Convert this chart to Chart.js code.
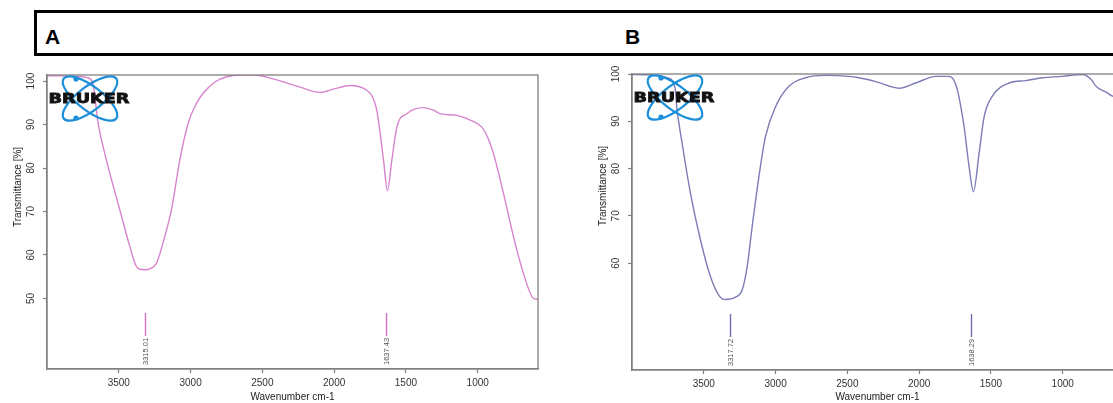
<!DOCTYPE html>
<html>
<head>
<meta charset="utf-8">
<script src="https://cdn.jsdelivr.net/npm/chart.js@4.4.1/dist/chart.umd.min.js"></script>
<style>
  html, body { margin: 0; padding: 0; background: #fff; overflow: hidden; }
  body { width: 1113px; height: 403px; position: relative; font-family: 'Liberation Sans', Arial, sans-serif; }
  .header { position: absolute; left: 34px; top: 10px; width: 1200px; height: 40px; border: 3px solid #000; }
  .panel-label { position: absolute; top: 26px; font-weight: bold; font-size: 21px; line-height: 1; color: #000; }
  canvas { position: absolute; top: 60px; }
</style>
</head>
<body>
<div class="header"></div>
<div class="panel-label" style="left:45px">A</div>
<div class="panel-label" style="left:625px">B</div>
<canvas id="chartA" width="560" height="343" style="left:0px"></canvas>
<canvas id="chartB" width="560" height="343" style="left:585px"></canvas>
<script>
// spectrum A (pink)
const wavenumbersA = [4000, 3900, 3800, 3720, 3681, 3644, 3586, 3540, 3493, 3423, 3380, 3354, 3315, 3284, 3237, 3190, 3133, 3075, 3017, 2960, 2912, 2830, 2749, 2650, 2550, 2426, 2237, 2098, 2000, 1889, 1773, 1730, 1703, 1656, 1629, 1598, 1563, 1494, 1378, 1308, 1261, 1145, 1052, 971, 930, 890, 820, 750, 681, 611, 580];
const transmittanceA = [101.2, 101.2, 101.1, 100.8, 99.5, 90.3, 81.8, 76.0, 70.4, 61.9, 57.5, 56.7, 56.6, 56.8, 58.1, 63.0, 70.4, 81.8, 90.3, 94.8, 97.2, 99.8, 101.0, 101.4, 101.4, 100.5, 98.6, 97.4, 98.2, 99.0, 97.9, 96.2, 93.3, 81.8, 74.8, 81.8, 89.4, 92.5, 93.9, 93.3, 92.5, 92.1, 91.0, 89.4, 87.0, 83.3, 74.1, 64.1, 55.7, 50.0, 49.8];

// spectrum B (blue)
const wavenumbersB = [4000, 3850, 3750, 3700, 3686, 3651, 3593, 3523, 3453, 3395, 3349, 3279, 3233, 3198, 3163, 3116, 3070, 3000, 2907, 2791, 2651, 2489, 2419, 2303, 2140, 2024, 1884, 1792, 1760, 1734, 1687, 1652, 1622, 1582, 1547, 1490, 1373, 1257, 1141, 1002, 863, 800, 768, 700, 653, 580];
const transmittanceB = [99.9, 99.8, 99.2, 97.0, 92.4, 85.4, 74.8, 64.9, 57.1, 53.2, 52.3, 52.8, 54.3, 59.2, 67.7, 78.3, 86.8, 93.1, 97.4, 99.2, 99.7, 99.5, 99.2, 98.4, 97.0, 98.1, 99.5, 99.5, 98.8, 96.7, 88.9, 80.4, 75.1, 83.3, 91.0, 95.3, 98.1, 98.6, 99.2, 99.5, 99.9, 98.8, 97.4, 96.2, 95.3, 94.6];

const peaksA = [3315.01, 1637.43];
const peaksB = [3317.72, 1638.29];

const xTicks = [3500, 3000, 2500, 2000, 1500, 1000];
const yTicksA = [50, 60, 70, 80, 90, 100];
const yTicksB = [60, 70, 80, 90, 100];

Chart.defaults.font.family = "'Liberation Sans', Arial, sans-serif";
Chart.defaults.color = '#333';

const axisGray = '#808080';

// box around plot, peak markers, y title and the little bruker logo
function spectrumPlugin(peaks, markColor) {
  return {
    id: 'spectrum',
    afterDatasetsDraw(chart) {
      const { ctx, chartArea: a, scales } = chart;
      ctx.save();
      ctx.strokeStyle = axisGray;
      ctx.lineWidth = 1.3;
      ctx.strokeRect(a.left, a.top, a.right - a.left, a.bottom - a.top);

      peaks.forEach((p) => {
        const x = Math.round(scales.x.getPixelForValue(p)) + 0.5;
        ctx.strokeStyle = markColor;
        ctx.lineWidth = 1.4;
        ctx.beginPath();
        ctx.moveTo(x, a.bottom - 56);
        ctx.lineTo(x, a.bottom - 33);
        ctx.stroke();
        ctx.save();
        ctx.translate(x, a.bottom - 4);
        ctx.rotate(-Math.PI / 2);
        ctx.fillStyle = '#555';
        ctx.font = "7.5px 'Liberation Sans', Arial, sans-serif";
        ctx.textAlign = 'left';
        ctx.textBaseline = 'middle';
        ctx.fillText(p.toFixed(2), 0, 0);
        ctx.restore();
      });

      // axis title sits a bit above the middle of the axis
      ctx.save();
      ctx.translate(18, a.top + 112);
      ctx.rotate(-Math.PI / 2);
      ctx.fillStyle = '#222';
      ctx.font = "10px 'Liberation Sans', Arial, sans-serif";
      ctx.textAlign = 'center';
      ctx.textBaseline = 'middle';
      ctx.fillText('Transmittance [%]', 0, 0);
      ctx.restore();

      // logo
      const cx = a.left + 43, cy = a.top + 23.5;
      ctx.strokeStyle = '#1c8fd8';
      ctx.lineWidth = 2.2;
      [-0.65, 0.65].forEach((ang) => {
        ctx.beginPath();
        ctx.ellipse(cx, cy, 33, 12, ang, 0, Math.PI * 2);
        ctx.stroke();
      });
      ctx.fillStyle = '#1c8fd8';
      [[-14, -19.5], [-14, 19.5]].forEach(([dx, dy]) => {
        ctx.beginPath();
        ctx.arc(cx + dx, cy + dy, 2.6, 0, Math.PI * 2);
        ctx.fill();
      });
      ctx.font = "bold 14px 'DejaVu Sans', sans-serif";
      const w = ctx.measureText('BRUKER').width;
      ctx.save();
      ctx.translate(a.left + 1.5, cy);
      ctx.scale(81 / w, 1);
      ctx.fillStyle = '#111';
      ctx.strokeStyle = '#111';
      ctx.lineWidth = 0.8;
      ctx.textBaseline = 'middle';
      ctx.textAlign = 'left';
      ctx.fillText('BRUKER', 0, 0.5);
      ctx.strokeText('BRUKER', 0, 0.5);
      ctx.restore();
      ctx.restore();
    },
  };
}

function buildChart(id, wn, tr, peaks, yTicks, yMin, yMax, color, markColor, padTop, xHeight) {
  const canvas = document.getElementById(id);
  new Chart(canvas, {
    type: 'line',
    data: {
      datasets: [
        {
          data: wn.map((x, i) => ({ x: x, y: tr[i] })),
          borderColor: color,
          borderWidth: 1.4,
          pointRadius: 0,
          cubicInterpolationMode: 'monotone',
          fill: false,
        },
      ],
    },
    options: {
      responsive: false,
      animation: false,
      devicePixelRatio: 1,
      layout: { padding: { top: padTop, right: 22, left: 0, bottom: 0 } },
      plugins: { legend: { display: false }, tooltip: { enabled: false } },
      scales: {
        x: {
          type: 'linear',
          reverse: true,
          min: 580,
          max: 4000,
          afterBuildTicks: (s) => { s.ticks = xTicks.map((v) => ({ value: v })); },
          afterFit: (s) => { s.height = xHeight; },
          border: { color: axisGray, width: 1.3 },
          grid: { drawOnChartArea: false, tickLength: 4, tickColor: axisGray, tickWidth: 1.2 },
          ticks: { font: { size: 10 }, padding: 4, maxRotation: 0, callback: (v) => String(v) },
          title: { display: true, text: 'Wavenumber cm-1', font: { size: 10 }, padding: { top: 0, bottom: 0 }, color: '#222' },
        },
        y: {
          min: yMin,
          max: yMax,
          afterBuildTicks: (s) => { s.ticks = yTicks.map((v) => ({ value: v })); },
          afterFit: (s) => { s.width = 47; },
          border: { color: axisGray, width: 1.3 },
          grid: { drawOnChartArea: false, tickLength: 4, tickColor: axisGray, tickWidth: 1.2 },
          ticks: { font: { size: 10 }, padding: 3, minRotation: 90, maxRotation: 90, crossAlign: 'center', callback: (v) => String(v) },
          title: { display: false },
        },
      },
    },
    plugins: [spectrumPlugin(peaks, markColor)],
  });
}

buildChart('chartA', wavenumbersA, transmittanceA, peaksA, yTicksA, 33.75, 101.4, '#d883cd', '#d670c8', 15, 34);
buildChart('chartB', wavenumbersB, transmittanceB, peaksB, yTicksB, 37.4, 100, '#7c7cb6', '#6e6eb0', 14, 33);
</script>
</body>
</html>
